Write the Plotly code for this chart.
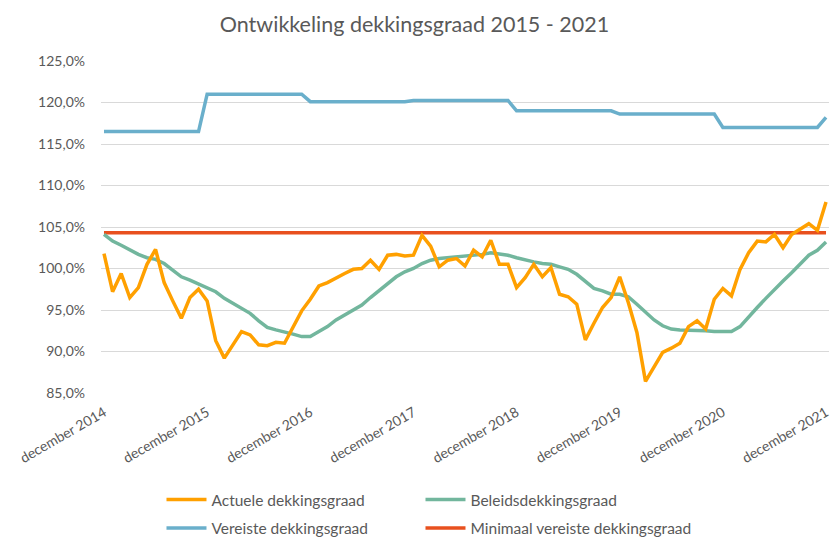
import plotly.graph_objects as go

# Month categories: december 2014 .. december 2021
maanden_nl = ["januari", "februari", "maart", "april", "mei", "juni", "juli",
              "augustus", "september", "oktober", "november", "december"]
months = ["december 2014"] + [f"{m} {y}" for y in range(2015, 2022) for m in maanden_nl]

actuele = [101.8, 97.2, 99.4, 96.5, 97.7, 100.5, 102.3, 98.3, 96.1, 94.0,
           96.5, 97.5, 96.1, 91.3, 89.2, 90.9, 92.4, 92.0, 90.8, 90.7,
           91.1, 91.0, 92.9, 94.9, 96.3, 97.9, 98.3, 98.9, 99.4, 99.9,
           100.0, 101.0, 99.9, 101.6, 101.7, 101.5, 101.6, 104.0, 102.7, 100.2,
           101.0, 101.2, 100.3, 102.2, 101.4, 103.4, 100.5, 100.5, 97.7, 98.9,
           100.5, 99.0, 100.1, 96.9, 96.6, 95.7, 91.4, 93.4, 95.3, 96.5,
           99.0, 95.9, 92.3, 86.4, 88.1, 89.9, 90.4, 91.0, 93.0, 93.7,
           92.7, 96.3, 97.6, 96.7, 99.9, 101.9, 103.3, 103.2, 104.1, 102.5,
           104.1, 104.7, 105.4, 104.6, 108.0]

beleids = [104.1, 103.3, 102.8, 102.2, 101.7, 101.3, 101.1, 100.6, 99.8, 99.0,
           98.6, 98.1, 97.6, 97.2, 96.4, 95.8, 95.3, 94.6, 93.7, 92.9,
           92.6, 92.4, 92.1, 91.8, 91.8, 92.4, 93.0, 93.8, 94.4, 95.0,
           95.6, 96.5, 97.3, 98.2, 99.0, 99.6, 100.0, 100.6, 101.0, 101.2,
           101.3, 101.4, 101.4, 101.5, 101.7, 101.9, 101.8, 101.6, 101.3, 101.0,
           100.8, 100.6, 100.5, 100.2, 99.9, 99.3, 98.5, 97.6, 97.3, 96.9,
           96.9, 96.6, 95.7, 94.7, 93.8, 93.1, 92.7, 92.6, 92.6, 92.6,
           92.5, 92.4, 92.4, 92.4, 93.0, 94.2, 95.3, 96.4, 97.5, 98.5,
           99.5, 100.5, 101.6, 102.2, 103.2]

vereiste = [116.5] * 12 + [121.0] * 12 + [120.1] * 12 + [120.25] * 12 + \
           [119.0] * 12 + [118.6] * 12 + [117.0] * 12 + [118.2]

minimaal_vereist = [104.3] * len(months)

tick_labels = [f"december {y}" for y in range(2014, 2022)]

FONT = "Lato, 'Open Sans', sans-serif"
GREY = "#595959"

fig = go.Figure()
series = [
    ("Actuele dekkingsgraad", actuele, "#FFA000", "legend", 0.1941, 0.0724),
    ("Beleidsdekkingsgraad", beleids, "#72B69D", "legend2", 0.5054, 0.0724),
    ("Vereiste dekkingsgraad", vereiste, "#6AAFCB", "legend3", 0.1941, 0.0195),
    ("Minimaal vereiste dekkingsgraad", minimaal_vereist, "#E8501E", "legend4", 0.5054, 0.0195),
]
for idx in [3, 2, 1, 0]:
    name, vals, col, leg, _, _ = series[idx]
    fig.add_trace(go.Scatter(x=months, y=vals, name=name, mode="lines",
                             line=dict(color=col, width=3.5), legend=leg))

legends = {}
for name, vals, col, leg, lx, ly in series:
    legends[leg] = dict(orientation="h", x=lx, xref="container", xanchor="left",
                        y=ly, yref="container", yanchor="middle",
                        font=dict(family=FONT, size=15.5, color=GREY), itemwidth=40,
                        bgcolor="rgba(0,0,0,0)")

fig.update_layout(
    width=832, height=539,
    margin=dict(l=101, r=1, t=61, b=146),
    paper_bgcolor="white", plot_bgcolor="white",
    separators=",.",
    title=dict(text="Ontwikkeling dekkingsgraad 2015 - 2021", x=0.4982, xref="container",
               y=0.9555, yref="container", xanchor="center", yanchor="middle",
               font=dict(family=FONT, size=21.5, color=GREY)),
    font=dict(family=FONT, size=14, color=GREY),
    showlegend=True,
    **legends,
)
fig.update_xaxes(type="category", categoryorder="array", categoryarray=months,
                 range=[-0.348, len(months) - 1 + 0.348],
                 tickmode="array", tickvals=tick_labels, ticktext=tick_labels,
                 tickangle=-30, showgrid=False, showline=False, ticks="",
                 ticklabelstandoff=8,
                 tickfont=dict(family=FONT, size=14, color=GREY))
fig.update_yaxes(range=[85, 125], dtick=5, tick0=85, tickformat=".1f", ticksuffix="%",
                 showgrid=True, gridcolor="#D9D9D9", gridwidth=1, zeroline=False,
                 showline=False, ticks="", ticklabelstandoff=15,
                 tickfont=dict(family=FONT, size=14, color=GREY))

fig.write_html("out.html",
               config={"displayModeBar": False},
               post_script="document.body.style.margin='0';"
                           "document.body.style.overflow='hidden';")
